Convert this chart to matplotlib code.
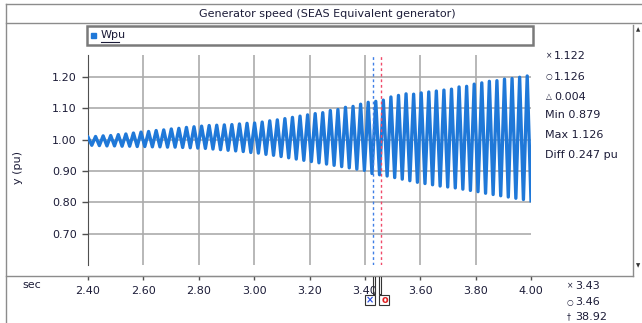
# -*- coding: utf-8 -*-
"""
Generator speed plot (SEAS equivalent generator), cursor readout style.
"""

import numpy as np
import matplotlib
matplotlib.use("Agg")
import matplotlib.pyplot as plt
from matplotlib.lines import Line2D
from matplotlib.patches import Rectangle

# ---------------- DATA ----------------
T_START, T_END = 2.40, 4.00

# per-cycle peak / trough of Wpu (pu)
wpu_peaks = [
    1.008, 1.010, 1.012, 1.013, 1.016, 1.018, 1.021, 1.024, 1.026, 1.029,
    1.031, 1.034, 1.036, 1.039, 1.041, 1.043, 1.045, 1.046, 1.047, 1.048,
    1.050, 1.052, 1.053, 1.056, 1.060, 1.063, 1.067, 1.071, 1.075, 1.079,
    1.083, 1.086, 1.093, 1.096, 1.103, 1.106, 1.113, 1.119, 1.122, 1.126,
    1.136, 1.141, 1.146, 1.145, 1.149, 1.152, 1.155, 1.158, 1.161, 1.168,
    1.170, 1.177, 1.181, 1.186, 1.188, 1.193, 1.195, 1.199, 1.203,
]
wpu_troughs = [
    0.982, 0.981, 0.980, 0.980, 0.979, 0.979, 0.978, 0.978, 0.977, 0.977,
    0.976, 0.976, 0.975, 0.974, 0.973, 0.972, 0.970, 0.968, 0.966, 0.964,
    0.962, 0.959, 0.957, 0.953, 0.950, 0.946, 0.942, 0.938, 0.934, 0.930,
    0.926, 0.922, 0.918, 0.914, 0.910, 0.906, 0.902, 0.892, 0.888, 0.884,
    0.879, 0.874, 0.869, 0.864, 0.860, 0.856, 0.852, 0.849, 0.846, 0.842,
    0.838, 0.834, 0.829, 0.825, 0.821, 0.817, 0.813, 0.809, 0.805,
]

x_ticks = [2.40, 2.60, 2.80, 3.00, 3.20, 3.40, 3.60, 3.80, 4.00]
y_ticks = [0.70, 0.80, 0.90, 1.00, 1.10, 1.20]

cursor_x = 3.43
cursor_o = 3.46
cursor_readout = ["1.122", "1.126", "0.004", "Min 0.879", "Max 1.126", "Diff 0.247 pu"]
time_readout = ["3.43", "3.46", "38.92"]

# ---------------- STYLE ----------------
W, H = 642, 323
LINE_BLUE = "#1f78d8"
GRID = "#ababab"
FRAME = "#8c8c8c"
TXT = "#1c1c38"
FS = 8


def fx(px):
    return px / W


def fy(py):
    return 1 - py / H


def hline(fig, x0, x1, y, color=FRAME, lw=1.0):
    fig.add_artist(Line2D([fx(x0), fx(x1)], [fy(y), fy(y)], color=color, lw=lw))


def vline(fig, x, y0, y1, color=FRAME, lw=1.0):
    fig.add_artist(Line2D([fx(x), fx(x)], [fy(y0), fy(y1)], color=color, lw=lw))


def wave_vertices(peaks, troughs):
    vals = []
    for p, t in zip(peaks, troughs):
        vals.extend([p, t])
    times = np.linspace(T_START, T_END, len(vals))
    return times, np.array(vals)


def main():
    fig = plt.figure(figsize=(W / 100, H / 100), dpi=100)
    fig.patch.set_facecolor("white")

    # outer frame + title bar
    hline(fig, 6, 642, 4)
    vline(fig, 6, 4, 323)
    hline(fig, 6, 642, 23)
    fig.text(fx(327), fy(14), "Generator speed (SEAS Equivalent generator)",
             ha="center", va="center", fontsize=FS, color=TXT)

    # legend strip
    fig.add_artist(Rectangle((fx(87), fy(45)), fx(533 - 87), (45 - 26) / H,
                             fill=False, ec="#7a7a7a", lw=1.8))
    fig.add_artist(Rectangle((fx(91), fy(38)), fx(5), 5 / H, color=LINE_BLUE))
    fig.text(fx(101), fy(35.5), "Wpu", ha="left", va="center", fontsize=FS, color=TXT)
    hline(fig, 101, 119, 42, color=TXT, lw=0.8)

    # right scroll strip
    vline(fig, 633, 25, 276)
    fig.text(fx(638), fy(30), "▲", ha="center", va="center", fontsize=4, color="#333333")
    fig.text(fx(638), fy(266), "▼", ha="center", va="center", fontsize=4, color="#333333")

    # bottom separator
    hline(fig, 6, 633, 276)

    # main plot
    ax = fig.add_axes([fx(88), fy(265), fx(531 - 88), (265 - 55) / H])
    ax.set_xlim(T_START, T_END)
    ax.set_ylim(0.60, 1.27)
    for s in ("top", "right"):
        ax.spines[s].set_visible(False)
    ax.spines["left"].set_color("#505050")
    ax.spines["bottom"].set_color("#505050")
    ax.spines["bottom"].set_position(("outward", 8))

    for v in y_ticks:
        ax.axhline(v, color=GRID, lw=1.2, zorder=1)
    for v in x_ticks[1:-1]:
        ax.axvline(v, color=GRID, lw=1.2, zorder=1)

    ax.set_yticks(y_ticks)
    ax.set_yticklabels([f"{v:.2f}" for v in y_ticks])
    ax.set_xticks(x_ticks)
    ax.set_xticklabels([f"{v:.2f}" for v in x_ticks])
    ax.tick_params(axis="y", direction="out", length=4, width=1, color="#505050",
                   labelsize=FS, labelcolor=TXT, pad=4)
    ax.tick_params(axis="x", direction="out", length=3, width=1, color="#505050",
                   labelsize=FS, labelcolor=TXT, pad=4)

    t, w = wave_vertices(wpu_peaks, wpu_troughs)
    ax.plot(t, w, color=LINE_BLUE, lw=2.4, zorder=3, solid_joinstyle="round")

    ax.axvline(cursor_x, color="#3f7fe6", lw=1.0, ls=(0, (2, 2)), zorder=4)
    ax.axvline(cursor_o, color="#f04a6a", lw=1.0, ls=(0, (2, 2)), zorder=4)

    fig.text(fx(18), fy(167), "y (pu)", rotation=90, ha="center", va="center",
             fontsize=FS, color=TXT)
    fig.text(fx(22), fy(285), "sec", ha="left", va="center", fontsize=FS, color=TXT)

    # cursor flags under the time axis
    bx = fx(88) + (cursor_x - T_START) / (T_END - T_START) * fx(443)
    ox = fx(88) + (cursor_o - T_START) / (T_END - T_START) * fx(443)
    bxp, oxp = bx * W, ox * W
    for xs, ys in (([bxp, bxp, bxp + 2, bxp + 2], [277, 294, 294, 277]),
                   ([oxp, oxp, oxp - 2, oxp - 2], [277, 294, 294, 277])):
        fig.add_artist(Line2D([fx(v) for v in xs], [fy(v) for v in ys], color="#333333", lw=0.8))
    fig.add_artist(Rectangle((fx(bxp - 8), fy(305)), fx(10), 10 / H, fill=True,
                             fc="white", ec="#333333", lw=0.8))
    fig.text(fx(bxp - 3), fy(300), "×", ha="center", va="center", fontsize=7,
             color="#2a4fe0", fontweight="bold")
    fig.add_artist(Rectangle((fx(oxp - 2), fy(305)), fx(10), 10 / H, fill=True,
                             fc="white", ec="#333333", lw=0.8))
    fig.text(fx(oxp + 3), fy(300), "o", ha="center", va="center", fontsize=7,
             color="#e02020", fontweight="bold")

    # cursor readout, right panel
    syms = ["×", "○", "△"]
    ys = [56, 77, 97, 115, 135, 155]
    for i, (yv, txt) in enumerate(zip(ys, cursor_readout)):
        if i < 3:
            fig.text(fx(546), fy(yv), syms[i], ha="left", va="center", fontsize=5.5, color=TXT)
            fig.text(fx(554), fy(yv), txt, ha="left", va="center", fontsize=FS, color=TXT)
        else:
            fig.text(fx(545), fy(yv), txt, ha="left", va="center", fontsize=FS, color=TXT)

    # time readout, bottom right
    for sym, yv, txt in zip(["×", "○", "†"], [286, 302, 317], time_readout):
        fig.text(fx(567), fy(yv), sym, ha="left", va="center", fontsize=5.5, color=TXT)
        fig.text(fx(575), fy(yv), txt, ha="left", va="center", fontsize=FS, color=TXT)

    fig.savefig("out.png", dpi=100, facecolor="white")


if __name__ == "__main__":
    main()
